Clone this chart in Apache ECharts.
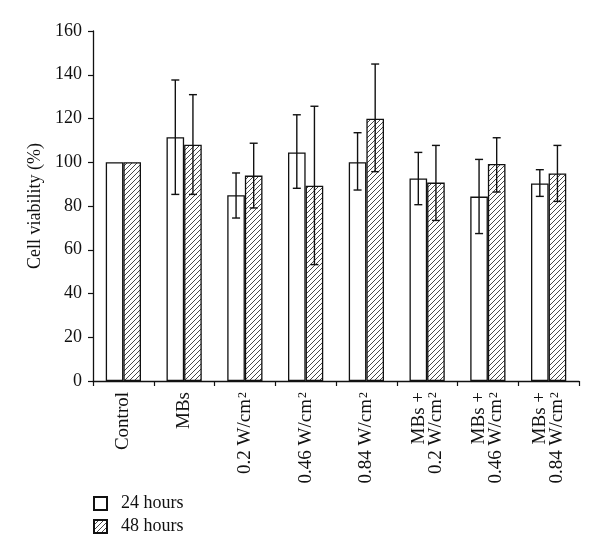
<!DOCTYPE html>
<html>
<head>
<meta charset="utf-8">
<script src="https://cdn.jsdelivr.net/npm/echarts@6/dist/echarts.min.js"></script>
<style>html,body{margin:0;padding:0;background:#fff;}#c{width:600px;height:560px;}</style>
</head>
<body>
<div id="c"></div>
<script>
var categories = ['Control', 'MBs', '0.2 W/cm2', '0.46 W/cm2', '0.84 W/cm2', 'MBs +\n0.2 W/cm2', 'MBs +\n0.46 W/cm2', 'MBs +\n0.84 W/cm2'];
var seriesNames = ['24 hours', '48 hours'];
var values24 = [100, 111.4, 84.9, 104.5, 100, 92.6, 84.3, 90.3];
var values48 = [100, 108.0, 93.9, 89.3, 119.9, 90.7, 99.2, 94.9];
var err24Low = [null, 85.3, 74.5, 88.1, 87.3, 80.6, 67.4, 84.4];
var err24High = [null, 137.6, 95.1, 121.7, 113.5, 104.5, 101.3, 96.6];
var err48Low = [null, 85.3, 79.1, 53.2, 95.7, 73.4, 86.4, 82.1];
var err48High = [null, 130.9, 108.7, 125.6, 144.9, 107.7, 111.2, 107.7];
var yTicks = {min: 0, max: 160, interval: 20};

var FONT = "'Liberation Serif', 'DejaVu Serif', serif";

function makeHatch() {
  var c = document.createElement('canvas');
  var s = 5;
  c.width = s; c.height = s;
  var ctx = c.getContext('2d');
  ctx.fillStyle = '#fff';
  ctx.fillRect(0, 0, s, s);
  ctx.strokeStyle = '#333';
  ctx.lineWidth = 0.9;
  ctx.beginPath();
  ctx.moveTo(0, s); ctx.lineTo(s, 0);
  ctx.moveTo(-1, 1); ctx.lineTo(1, -1);
  ctx.moveTo(s - 1, s + 1); ctx.lineTo(s + 1, s - 1);
  ctx.stroke();
  return c;
}
var hatch = {image: makeHatch(), repeat: 'repeat'};

function errData(lo, hi) {
  var out = [];
  for (var i = 0; i < lo.length; i++) {
    if (lo[i] != null) out.push([i, lo[i], hi[i]]);
  }
  return out;
}

function errRender(offsetFrac) {
  return function (params, api) {
    var band = api.size([1, 0])[0];
    var xc = api.coord([api.value(0), 0])[0] + band * offsetFrac;
    var yLo = api.coord([api.value(0), api.value(1)])[1];
    var yHi = api.coord([api.value(0), api.value(2)])[1];
    var cap = 4;
    var st = {stroke: '#111', lineWidth: 1.4};
    return {
      type: 'group',
      children: [
        {type: 'line', shape: {x1: xc, y1: yLo, x2: xc, y2: yHi}, style: st},
        {type: 'line', shape: {x1: xc - cap, y1: yHi, x2: xc + cap, y2: yHi}, style: st},
        {type: 'line', shape: {x1: xc - cap, y1: yLo, x2: xc + cap, y2: yLo}, style: st}
      ]
    };
  };
}

function fmtCat(v) {
  return v.replace(/W\/cm2/, 'W/cm{sup|2}');
}

var chart = echarts.init(document.getElementById('c'), null, {renderer: 'canvas'});
chart.setOption({
  animation: false,
  backgroundColor: '#fff',
  textStyle: {fontFamily: FONT, color: '#111'},
  grid: {left: 93, right: 21, top: 31, bottom: 179, containLabel: false},
  legend: {
    data: seriesNames,
    orient: 'vertical',
    left: 93,
    top: 494,
    padding: 0,
    itemWidth: 13,
    itemHeight: 13,
    itemGap: 4,
    icon: 'rect',
    textStyle: {fontFamily: FONT, fontSize: 18, lineHeight: 19, color: '#111', padding: [0, 0, 0, 9]}
  },
  xAxis: {
    type: 'category',
    data: categories,
    axisLine: {lineStyle: {color: '#111', width: 1.3}},
    axisTick: {show: true, length: 5, lineStyle: {color: '#111', width: 1.2}},
    axisLabel: {
      rotate: 90,
      margin: 11,
      interval: 0,
      fontFamily: FONT,
      fontSize: 19,
      color: '#111',
      lineHeight: 17,
      formatter: fmtCat,
      rich: {
        sup: {fontFamily: FONT, fontSize: 12, verticalAlign: 'top', lineHeight: 10, padding: [0, 0, 4, 1], color: '#111'}
      }
    },
    splitLine: {show: false}
  },
  yAxis: {
    type: 'value',
    min: yTicks.min,
    max: yTicks.max,
    interval: yTicks.interval,
    name: 'Cell viability (%)',
    nameLocation: 'middle',
    nameGap: 46,
    nameRotate: 90,
    nameTextStyle: {fontFamily: FONT, fontSize: 18, color: '#111'},
    axisLine: {show: true, lineStyle: {color: '#111', width: 1.3}},
    axisTick: {show: true, length: 5, lineStyle: {color: '#111', width: 1.2}},
    axisLabel: {margin: 11, fontFamily: FONT, fontSize: 18, color: '#111'},
    splitLine: {show: false}
  },
  series: [
    {
      name: seriesNames[0],
      type: 'bar',
      data: values24,
      barWidth: '29%',
      barGap: '0%',
      itemStyle: {color: '#fff', borderColor: '#111', borderWidth: 1.3}
    },
    {
      name: seriesNames[1],
      type: 'bar',
      data: values48,
      barWidth: '29%',
      barGap: '0%',
      itemStyle: {color: hatch, borderColor: '#111', borderWidth: 1.3}
    },
    {
      type: 'custom',
      name: 'err24',
      renderItem: errRender(-0.145),
      data: errData(err24Low, err24High),
      encode: {x: 0, y: [1, 2]},
      z: 10
    },
    {
      type: 'custom',
      name: 'err48',
      renderItem: errRender(0.145),
      data: errData(err48Low, err48High),
      encode: {x: 0, y: [1, 2]},
      z: 10
    }
  ]
});
</script>
</body>
</html>
